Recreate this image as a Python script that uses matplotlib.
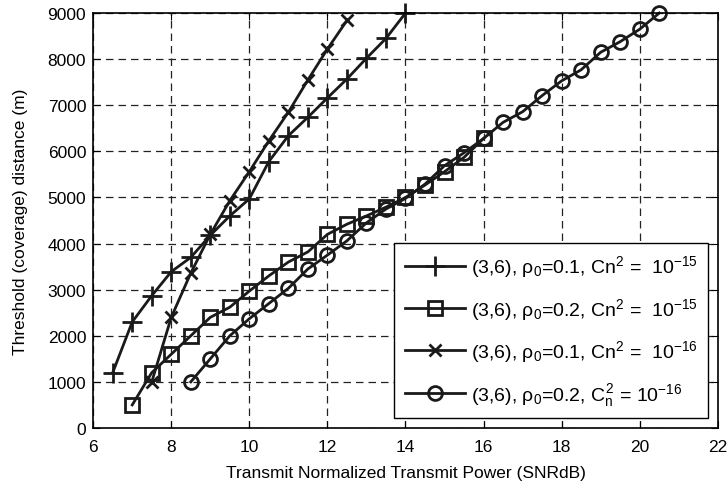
import numpy as np
from matplotlib import pyplot as plt

plt.rcParams['font.family'] = ['Liberation Sans', 'DejaVu Sans']
plt.rcParams['mathtext.fontset'] = 'custom'
plt.rcParams['mathtext.rm'] = 'Liberation Sans'
plt.rcParams['mathtext.it'] = 'Liberation Sans'
plt.rcParams['mathtext.bf'] = 'Liberation Sans:bold'

# (3,6), rho0=0.1, Cn2=1e-15  (+)
snr_plus = [6.5, 7, 7.5, 8, 8.5, 9, 9.5, 10, 10.5, 11, 11.5, 12, 12.5, 13, 13.5, 14]
dist_plus = [1200, 2300, 2870, 3390, 3700, 4180, 4600, 4970, 5780, 6340, 6740, 7160, 7570, 8020, 8450, 9000]

# (3,6), rho0=0.2, Cn2=1e-15  (square)
snr_sq = [7, 7.5, 8, 8.5, 9, 9.5, 10, 10.5, 11, 11.5, 12, 12.5, 13, 13.5, 14, 14.5, 15, 15.5, 16]
dist_sq = [500, 1200, 1600, 2000, 2400, 2620, 2970, 3300, 3600, 3820, 4200, 4420, 4600, 4790, 5000, 5270, 5560, 5870, 6280]

# (3,6), rho0=0.1, Cn2=1e-16  (x)
snr_x = [7.5, 8, 8.5, 9, 9.5, 10, 10.5, 11, 11.5, 12, 12.5]
dist_x = [1000, 2400, 3360, 4200, 4930, 5560, 6230, 6850, 7550, 8220, 8840]

# (3,6), rho0=0.2, Cn2=1e-16  (circle)
snr_o = [8.5, 9, 9.5, 10, 10.5, 11, 11.5, 12, 12.5, 13, 13.5, 14, 14.5, 15, 15.5, 16,
         16.5, 17, 17.5, 18, 18.5, 19, 19.5, 20, 20.5]
dist_o = [1000, 1500, 2000, 2370, 2700, 3030, 3450, 3750, 4060, 4450, 4750, 4980, 5290, 5690,
          5970, 6280, 6630, 6860, 7210, 7530, 7770, 8150, 8380, 8650, 9000]

labels = [r'(3,6), $\rho_0$=0.1, Cn$^2$ =  10$^{-15}$',
          r'(3,6), $\rho_0$=0.2, Cn$^2$ =  10$^{-15}$',
          r'(3,6), $\rho_0$=0.1, Cn$^2$ =  10$^{-16}$',
          r'(3,6), $\rho_0$=0.2, $C_n^2$ = 10$^{-16}$']

fig = plt.figure(figsize=(7.28, 4.85), dpi=100)
ax = fig.add_axes([0.128, 0.1155, 0.858, 0.8555])

c = '#1a1a1a'
ax.plot(snr_plus, dist_plus, '-', marker='+', color=c, lw=2, ms=14, mew=2, label=labels[0], clip_on=False)
ax.plot(snr_sq, dist_sq, '-', marker='s', color=c, lw=2, ms=9.5, mew=2, mfc='none', label=labels[1], clip_on=False)
ax.plot(snr_x, dist_x, '-', marker='x', color=c, lw=2, ms=9, mew=2, label=labels[2], clip_on=False)
ax.plot(snr_o, dist_o, '-', marker='o', color=c, lw=2, ms=10, mew=2, mfc='none', label=labels[3], clip_on=False)

ax.set_xlim(6, 22)
ax.set_ylim(0, 9000)
ax.set_xticks(np.arange(6, 23, 2))
ax.set_yticks(np.arange(0, 9001, 1000))
ax.grid(True, color='#222222', linestyle=(0, (6, 4)), linewidth=0.9)
ax.tick_params(axis='x', direction='in', top=True, labelsize=12.5, length=5, pad=8)
ax.tick_params(axis='y', direction='in', right=True, labelsize=12.5, length=5, pad=5)
for s in ax.spines.values():
    s.set_linewidth(1.2)

ax.set_xlabel('Transmit Normalized Transmit Power (SNRdB)', fontsize=12.5, labelpad=8)
ax.set_ylabel('Threshold (coverage) distance (m)', fontsize=12.5, labelpad=14)

leg = ax.legend(loc='lower right', fontsize=14, fancybox=False, framealpha=1,
                edgecolor='k', handlelength=3.1, borderpad=0.55, labelspacing=0.85,
                handletextpad=0.3, borderaxespad=0.5)
leg.get_frame().set_linewidth(1.0)

fig.savefig('out.png', dpi=100)
